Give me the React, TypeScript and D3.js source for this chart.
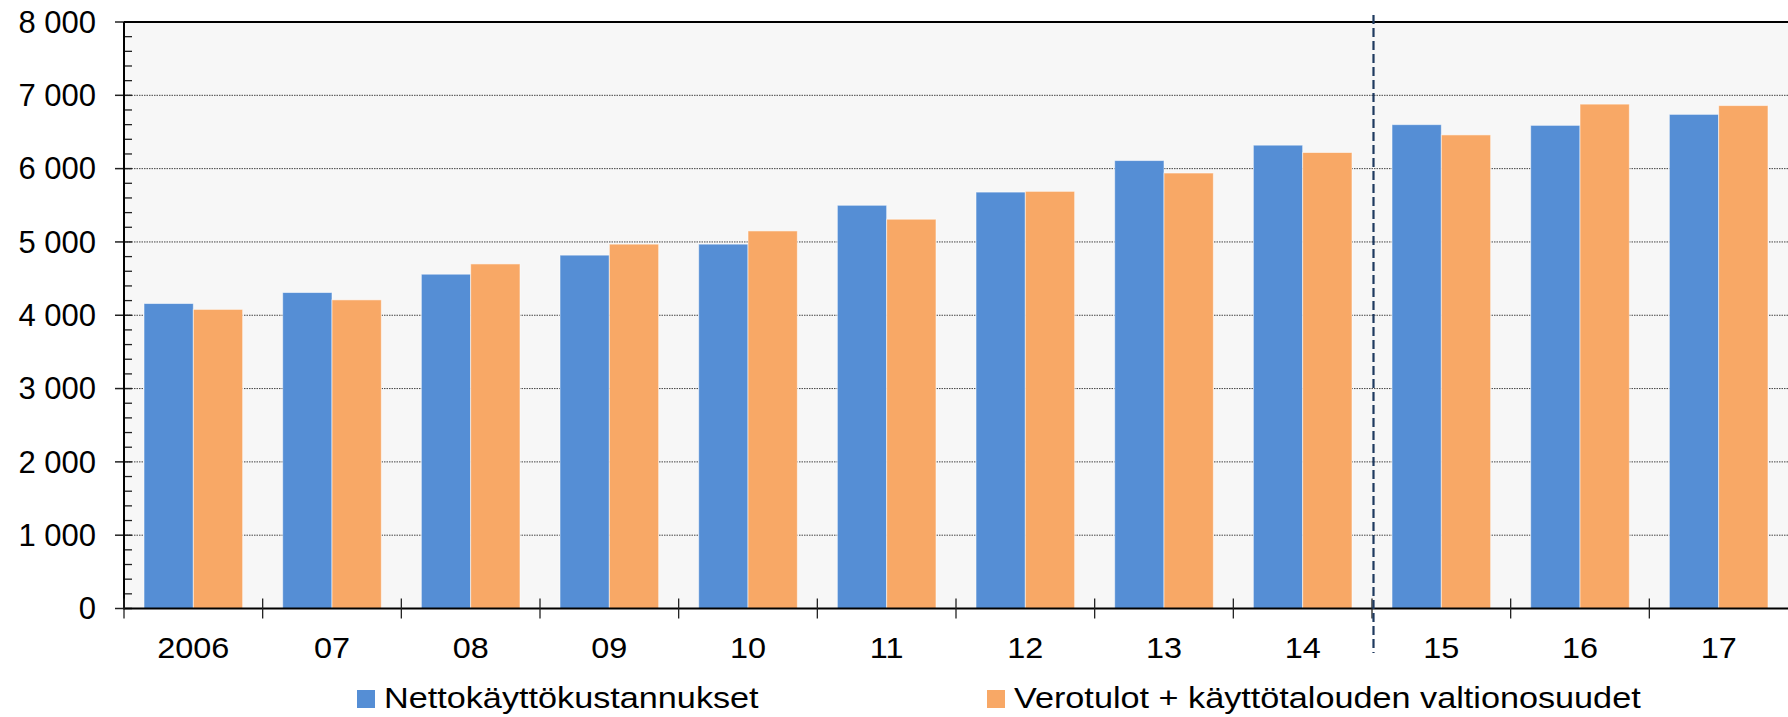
import React, { useEffect, useRef } from 'react';
import * as d3 from 'd3';

// years on the x axis and the two series (EUR per inhabitant)
const years = ['2006', '07', '08', '09', '10', '11', '12', '13', '14', '15', '16', '17'];
const netCosts = [4160, 4310, 4560, 4820, 4970, 5500, 5680, 6110, 6320, 6600, 6590, 6740];
const taxIncome = [4080, 4210, 4700, 4970, 5150, 5310, 5690, 5940, 6220, 6460, 6880, 6860];
const seriesNames = ['Nettokäyttökustannukset', 'Verotulot + käyttötalouden valtionosuudet'];
const yTicks = [0, 1000, 2000, 3000, 4000, 5000, 6000, 7000, 8000];
const forecastFrom = '15';

const colors = ['#558ED5', '#F8A866'];
const font = '"Liberation Sans", Arial, sans-serif';

const App = () => {
  const ref = useRef<SVGSVGElement>(null);

  useEffect(() => {
    const W = 1788;
    const H = 717;
    const m = { top: 22, right: 0, bottom: 108.5, left: 124 };
    const innerW = W - m.left - m.right;
    const innerH = H - m.top - m.bottom;

    const svg = d3.select(ref.current);
    svg.selectAll('*').remove();

    const x = d3.scaleBand().domain(years).range([m.left, m.left + innerW]).padding(0);
    const bw = x.bandwidth();
    const x1 = d3.scaleBand().domain(['a', 'b']).range([20, bw - 20]).padding(0);
    const y = d3.scaleLinear().domain([0, 8000]).range([m.top + innerH, m.top]);

    // plot background
    svg
      .append('rect')
      .attr('x', m.left)
      .attr('y', m.top)
      .attr('width', innerW)
      .attr('height', innerH)
      .attr('fill', '#F7F7F7');

    // dotted gridlines
    svg
      .selectAll('.grid')
      .data(yTicks.filter((d) => d > 0 && d < 8000))
      .enter()
      .append('line')
      .attr('x1', m.left)
      .attr('x2', W)
      .attr('y1', (d) => y(d))
      .attr('y2', (d) => y(d))
      .attr('stroke', '#444')
      .attr('stroke-width', 1)
      .attr('stroke-dasharray', '1.5,1');

    const rows = years.map((yr, i) => ({ yr, a: netCosts[i], b: taxIncome[i] }));

    const drawBars = (key: 'a' | 'b', color: string) => {
      svg
        .selectAll('.bar-' + key)
        .data(rows)
        .enter()
        .append('rect')
        .attr('x', (d) => (x(d.yr) as number) + (x1(key) as number))
        .attr('y', (d) => y(d[key]))
        .attr('width', x1.bandwidth())
        .attr('height', (d) => y(0) - y(d[key]))
        .attr('fill', color)
        .attr('stroke', 'rgba(255,255,255,0.55)')
        .attr('stroke-width', 1);
    };
    drawBars('a', colors[0]);
    drawBars('b', colors[1]);

    // minor ticks inside, every 200
    const minor = d3.range(200, 8000, 200).filter((v) => v % 1000 !== 0);
    svg
      .selectAll('.minor')
      .data(minor)
      .enter()
      .append('line')
      .attr('x1', m.left)
      .attr('x2', m.left + 8)
      .attr('y1', (d) => y(d))
      .attr('y2', (d) => y(d))
      .attr('stroke', '#222')
      .attr('stroke-width', 1.3);

    // major ticks crossing the axis
    svg
      .selectAll('.major')
      .data(yTicks)
      .enter()
      .append('line')
      .attr('x1', m.left - 9)
      .attr('x2', m.left + 8)
      .attr('y1', (d) => y(d))
      .attr('y2', (d) => y(d))
      .attr('stroke', '#222')
      .attr('stroke-width', 1.5);

    svg
      .selectAll('.ylabel')
      .data(yTicks)
      .enter()
      .append('text')
      .attr('x', 96)
      .attr('y', (d) => y(d))
      .attr('dy', '0.35em')
      .attr('text-anchor', 'end')
      .attr('font-family', font)
      .attr('font-size', 31)
      .attr('fill', '#000')
      .text((d) => d3.format(',')(d).replace(/,/g, ' '));

    // frame lines: left axis, top border, bottom axis
    svg.append('line').attr('x1', m.left).attr('x2', m.left).attr('y1', m.top).attr('y2', y(0) + 1)
      .attr('stroke', '#000').attr('stroke-width', 2);
    svg.append('line').attr('x1', m.left).attr('x2', W).attr('y1', m.top).attr('y2', m.top)
      .attr('stroke', '#000').attr('stroke-width', 2);
    svg.append('line').attr('x1', m.left).attr('x2', W).attr('y1', y(0)).attr('y2', y(0))
      .attr('stroke', '#000').attr('stroke-width', 2);

    // x ticks at band boundaries
    svg
      .selectAll('.xtick')
      .data(years)
      .enter()
      .append('line')
      .attr('x1', (d) => x(d) as number)
      .attr('x2', (d) => x(d) as number)
      .attr('y1', y(0) - 10)
      .attr('y2', y(0) + 10)
      .attr('stroke', '#222')
      .attr('stroke-width', 1.3);

    svg
      .selectAll('.xlabel')
      .data(years)
      .enter()
      .append('text')
      .attr('transform', (d) => `translate(${(x(d) as number) + bw / 2},658) scale(1.08,1)`)
      .attr('text-anchor', 'middle')
      .attr('font-family', font)
      .attr('font-size', 30)
      .attr('fill', '#000')
      .text((d) => d);

    // dashed line between actuals and forecasts
    const xd = (x(forecastFrom) as number) + 1.5;
    svg
      .append('line')
      .attr('x1', xd)
      .attr('x2', xd)
      .attr('y1', 15)
      .attr('y2', 653)
      .attr('stroke', '#1F3A5F')
      .attr('stroke-width', 2.2)
      .attr('stroke-dasharray', '9,4');

    // legend
    const legendX = [357, 987];
    seriesNames.forEach((name, i) => {
      const g = svg.append('g').attr('transform', `translate(${legendX[i]},690)`);
      g.append('rect').attr('width', 18).attr('height', 18).attr('fill', colors[i]);
      g.append('text')
        .attr('transform', 'translate(27,18) scale(1.16,1)')
        .attr('font-family', font)
        .attr('font-size', 29.5)
        .attr('fill', '#000')
        .text(name);
    });
  }, []);

  return (
    <svg
      ref={ref}
      width={1788}
      height={717}
      style={{ position: 'absolute', left: 0, top: 0, background: '#fff' }}
    />
  );
};

export default App;
